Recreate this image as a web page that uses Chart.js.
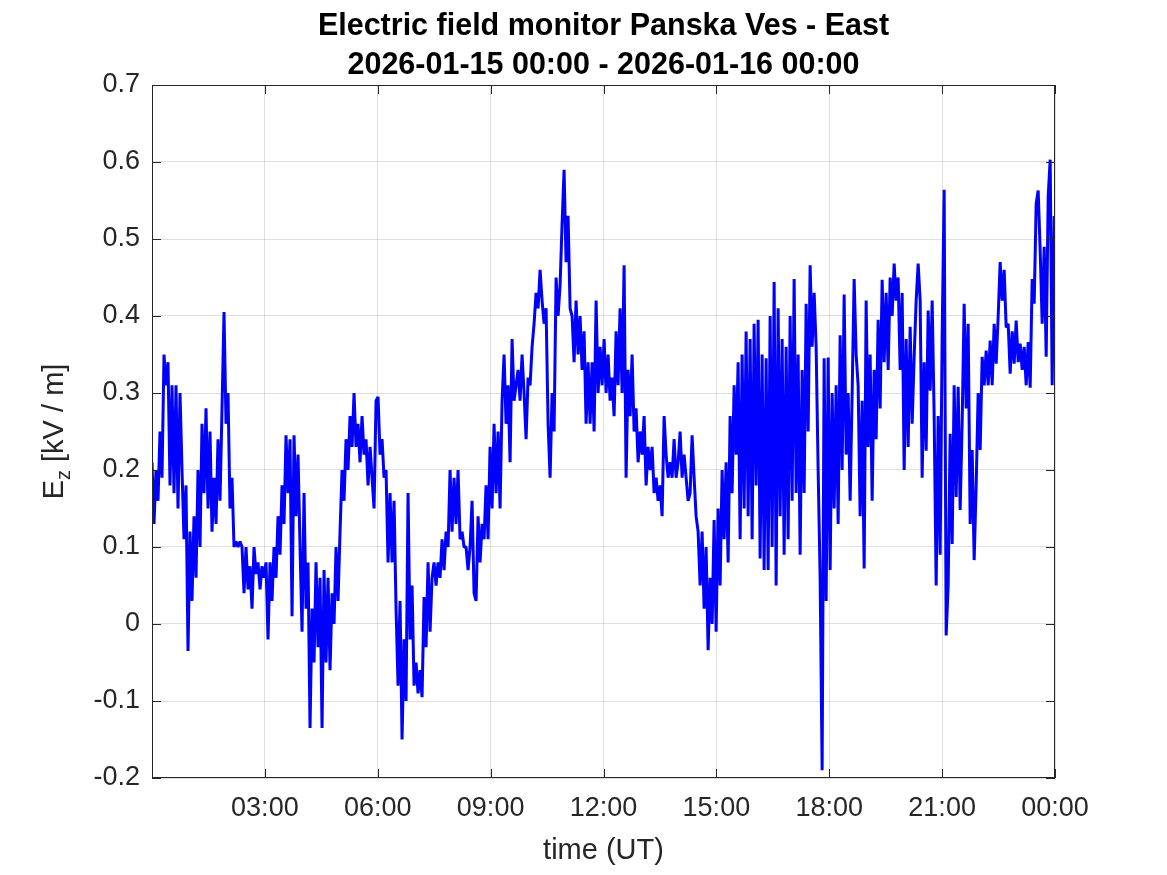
<!DOCTYPE html>
<html>
<head>
<meta charset="utf-8">
<title>Electric field monitor Panska Ves - East</title>
<script src="https://cdn.jsdelivr.net/npm/chart.js@4.4.1/dist/chart.umd.min.js"></script>
<style>
  html, body { margin: 0; padding: 0; background: #fff; }
</style>
</head>
<body>
<canvas id="efieldChart" width="1167" height="875"></canvas>
<script>
const titleLines = ['Electric field monitor Panska Ves - East', '2026-01-15 00:00 - 2026-01-16 00:00'];
const xLabel = 'time (UT)';

// x axis is minutes since 2026-01-15 00:00
const xTicks = [180, 360, 540, 720, 900, 1080, 1260, 1440];
const xTickLabels = ['03:00', '06:00', '09:00', '12:00', '15:00', '18:00', '21:00', '00:00'];
const yTicks = [-0.2, -0.1, 0, 0.1, 0.2, 0.3, 0.4, 0.5, 0.6, 0.7];
const yTickLabels = ['-0.2', '-0.1', '0', '0.1', '0.2', '0.3', '0.4', '0.5', '0.6', '0.7'];

// one reading every ~3.2 min, values in kV/m
const sampleMinutes = 3.19;
const ez = [
  0.21, 0.13, 0.2, 0.16, 0.25, 0.19, 0.35, 0.31, 0.34, 0.18,
  0.31, 0.17, 0.31, 0.15, 0.3, 0.2, 0.11, 0.18, -0.035, 0.12,
  0.03, 0.14, 0.06, 0.2, 0.1, 0.26, 0.17, 0.28, 0.15, 0.25,
  0.12, 0.19, 0.13, 0.24, 0.16, 0.28, 0.405, 0.26, 0.3, 0.15,
  0.19, 0.1, 0.107, 0.1, 0.107, 0.1, 0.04, 0.1, 0.045, 0.075,
  0.02, 0.1, 0.065, 0.08, 0.045, 0.075, 0.06, 0.08, -0.02, 0.08,
  0.03, 0.1, 0.06, 0.14, 0.09, 0.18, 0.13, 0.245, 0.17, 0.24,
  0.01, 0.245, 0.14, 0.22, 0.1, -0.01, 0.17, 0.02, 0.08, -0.135,
  0.02, -0.05, 0.08, -0.03, 0.06, -0.135, 0.07, -0.05, 0.06, -0.06,
  0.04, 0.0, 0.1, 0.03, 0.12, 0.2, 0.16, 0.24, 0.2, 0.27,
  0.23, 0.3, 0.23, 0.26, 0.21, 0.27, 0.22, 0.24, 0.18, 0.23,
  0.19, 0.15, 0.29, 0.295, 0.22, 0.24, 0.19, 0.2, 0.08, 0.17,
  0.08, 0.16, 0.02, -0.08, 0.03, -0.15, -0.02, -0.1, 0.17, -0.02,
  0.05, -0.08, -0.05, -0.09, -0.06, -0.095, 0.035, -0.03, 0.08, -0.01,
  0.06, 0.08, 0.05, 0.08, 0.06, 0.11, 0.07, 0.12, 0.1, 0.2,
  0.12, 0.19, 0.13, 0.2, 0.11, 0.12, 0.1, 0.1, 0.07, 0.1,
  0.16, 0.04, 0.03, 0.14, 0.08, 0.13, 0.11, 0.18, 0.11, 0.23,
  0.15, 0.26, 0.17, 0.25, 0.15, 0.29, 0.35, 0.26, 0.31, 0.21,
  0.37, 0.29, 0.31, 0.33, 0.29, 0.35, 0.3, 0.24, 0.32, 0.31,
  0.36, 0.39, 0.43, 0.41, 0.46, 0.42, 0.39, 0.41, 0.26, 0.19,
  0.3, 0.25, 0.45, 0.4, 0.44, 0.52, 0.59, 0.47, 0.53, 0.41,
  0.4, 0.34, 0.42, 0.35, 0.4, 0.33, 0.38, 0.26, 0.34, 0.26,
  0.34, 0.25, 0.42, 0.3, 0.36, 0.31, 0.37, 0.3, 0.35, 0.29,
  0.32, 0.27, 0.38, 0.31, 0.41, 0.3, 0.466, 0.19, 0.33, 0.27,
  0.35, 0.25, 0.28, 0.21, 0.25, 0.22, 0.27, 0.18, 0.23, 0.2,
  0.23, 0.17, 0.19, 0.16, 0.18, 0.14, 0.27, 0.22, 0.19, 0.21,
  0.19, 0.24, 0.19, 0.21, 0.25, 0.19, 0.22, 0.19, 0.16, 0.17,
  0.245, 0.19, 0.14, 0.12, 0.05, 0.12, 0.02, 0.1, -0.034, 0.06,
  0.0, 0.135, -0.01, 0.15, 0.05, 0.2, 0.11, 0.21, 0.08, 0.27,
  0.17, 0.31, 0.22, 0.34, 0.11, 0.35, 0.15, 0.38, 0.14, 0.37,
  0.11, 0.39, 0.18, 0.395, 0.085, 0.35, 0.07, 0.345, 0.07, 0.4,
  0.1, 0.444, 0.05, 0.41, 0.14, 0.37, 0.09, 0.36, 0.11, 0.4,
  0.16, 0.448, 0.17, 0.35, 0.09, 0.33, 0.17, 0.416, 0.25, 0.466,
  0.36, 0.43, 0.36, 0.2, 0.06, -0.19, 0.345, 0.03, 0.346, 0.07,
  0.3, 0.15, 0.31, 0.13, 0.375, 0.2, 0.428, 0.22, 0.3, 0.16,
  0.3, 0.448, 0.35, 0.31, 0.14, 0.29, 0.072, 0.42, 0.23, 0.35,
  0.16, 0.33, 0.24, 0.395, 0.28, 0.447, 0.34, 0.43, 0.33, 0.45,
  0.4, 0.468, 0.42, 0.45, 0.33, 0.43, 0.2, 0.37, 0.23, 0.386,
  0.26, 0.347, 0.42, 0.468, 0.42, 0.19, 0.34, 0.225, 0.407, 0.303,
  0.42, 0.27, 0.05, 0.27, 0.09, 0.375, 0.564, -0.015, 0.05, 0.247,
  0.104, 0.31, 0.165, 0.308, 0.148, 0.262, 0.416, 0.28, 0.39, 0.13,
  0.226, 0.083, 0.18, 0.3, 0.226, 0.347, 0.31, 0.355, 0.31, 0.368,
  0.31, 0.39, 0.338, 0.4, 0.47, 0.42, 0.46, 0.385, 0.39, 0.325,
  0.38, 0.338, 0.394, 0.34, 0.364, 0.33, 0.36, 0.31, 0.366, 0.307,
  0.448, 0.416, 0.546, 0.563, 0.485, 0.39, 0.49, 0.347, 0.555, 0.603,
  0.31, 0.53,
];

const FONT = '"Liberation Sans", Arial, Helvetica, sans-serif';
const AXIS_COLOR = '#262626';
const TICK_LEN = 9;

// MATLAB-like box: axes lines on all sides, ticks pointing inward, labels with subscript
const matlabFrame = {
  id: 'matlabFrame',
  afterDatasetsDraw(chart) {
    const { ctx, chartArea: a, scales } = chart;
    ctx.save();
    ctx.strokeStyle = AXIS_COLOR;
    ctx.lineWidth = 1;
    ctx.strokeRect(a.left + 0.5, a.top + 0.5, a.right - a.left - 1, a.bottom - a.top - 1);

    ctx.beginPath();
    xTicks.forEach((t) => {
      const px = Math.round(scales.x.getPixelForValue(t)) + 0.5;
      ctx.moveTo(px, a.bottom);
      ctx.lineTo(px, a.bottom - TICK_LEN);
      ctx.moveTo(px, a.top);
      ctx.lineTo(px, a.top + TICK_LEN);
    });
    yTicks.forEach((t) => {
      const py = Math.round(scales.y.getPixelForValue(t)) + 0.5;
      ctx.moveTo(a.left, py);
      ctx.lineTo(a.left + TICK_LEN, py);
      ctx.moveTo(a.right, py);
      ctx.lineTo(a.right - TICK_LEN, py);
    });
    ctx.stroke();

    // title
    const cx = (a.left + a.right) / 2;
    ctx.fillStyle = '#000';
    ctx.textAlign = 'center';
    ctx.textBaseline = 'alphabetic';
    ctx.font = `bold 30.5px ${FONT}`;
    ctx.fillText(titleLines[0], cx, 35);
    ctx.fillText(titleLines[1], cx, 74);

    // x label
    ctx.fillStyle = AXIS_COLOR;
    ctx.font = `29px ${FONT}`;
    ctx.fillText(xLabel, cx, 859);

    // y label: E_z [kV / m], rotated
    const big = `29px ${FONT}`;
    const small = `20px ${FONT}`;
    ctx.font = big;
    const wE = ctx.measureText('E').width;
    const wRest = ctx.measureText(' [kV / m]').width;
    ctx.font = small;
    const wZ = ctx.measureText('z').width;
    const total = wE + wZ + wRest;
    ctx.translate(63, (a.top + a.bottom) / 2);
    ctx.rotate(-Math.PI / 2);
    ctx.textAlign = 'left';
    let pos = -total / 2;
    ctx.font = big;
    ctx.fillText('E', pos, 0);
    pos += wE;
    ctx.font = small;
    ctx.fillText('z', pos, 7);
    pos += wZ;
    ctx.font = big;
    ctx.fillText(' [kV / m]', pos, 0);
    ctx.restore();
  },
};

new Chart(document.getElementById('efieldChart'), {
  type: 'line',
  data: {
    datasets: [{
      label: 'Ez',
      data: ez.map((v, i) => ({ x: i * sampleMinutes, y: v })),
      borderColor: '#0000ff',
      borderWidth: 3,
      borderJoinStyle: 'bevel',
      pointRadius: 0,
      tension: 0,
      fill: false,
    }],
  },
  options: {
    responsive: false,
    animation: false,
    devicePixelRatio: 1,
    layout: { padding: { top: 85, right: 112, left: 0, bottom: 0 } },
    plugins: {
      legend: { display: false },
      tooltip: { enabled: false },
    },
    scales: {
      x: {
        type: 'linear',
        min: 0,
        max: 1440,
        afterBuildTicks(scale) {
          scale.ticks = xTicks.map((v) => ({ value: v }));
        },
        afterFit(scale) {
          scale.height = 97;
        },
        ticks: {
          autoSkip: false,
          maxRotation: 0,
          padding: 14,
          color: AXIS_COLOR,
          font: { family: FONT, size: 27 },
          callback(value) {
            const i = xTicks.indexOf(value);
            return i >= 0 ? xTickLabels[i] : '';
          },
        },
        grid: { color: 'rgba(38,38,38,0.15)', drawTicks: false },
        border: { display: false },
      },
      y: {
        min: -0.2,
        max: 0.7,
        afterBuildTicks(scale) {
          scale.ticks = yTicks.map((v) => ({ value: v }));
        },
        afterFit(scale) {
          scale.width = 152;
        },
        ticks: {
          padding: 12,
          color: AXIS_COLOR,
          font: { family: FONT, size: 27 },
          callback(value) {
            const i = yTicks.findIndex((t) => Math.abs(t - value) < 1e-9);
            return i >= 0 ? yTickLabels[i] : '';
          },
        },
        grid: { color: 'rgba(38,38,38,0.15)', drawTicks: false },
        border: { display: false },
      },
    },
  },
  plugins: [matlabFrame],
});
</script>
</body>
</html>
